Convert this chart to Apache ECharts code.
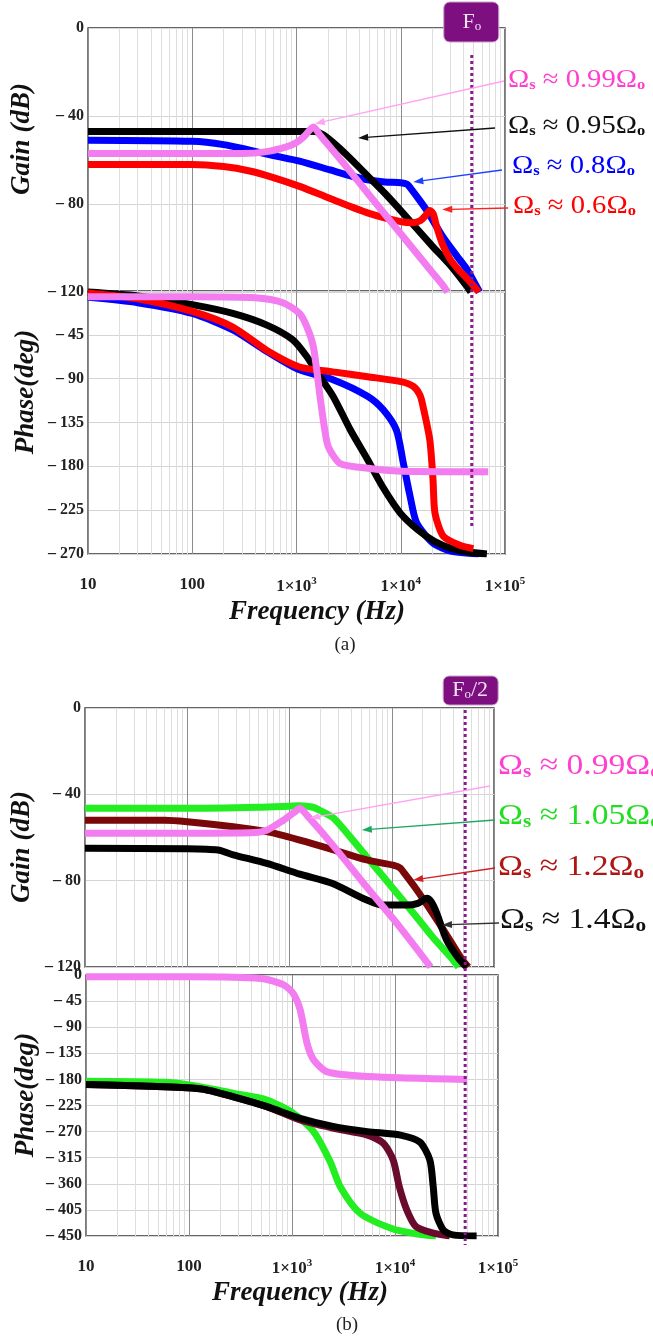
<!DOCTYPE html>
<html><head><meta charset="utf-8">
<script src="https://cdn.jsdelivr.net/npm/echarts@6/dist/echarts.min.js"></script>
<style>html,body{margin:0;padding:0;background:#fff}#c{width:653px;height:1339px}</style>
</head><body><div id="c"></div>
<script>
// ---------------- DATA ----------------
// x ticks (decades) and minor gridline frequencies
const decadeTicks = [10, 100, 1000, 10000, 100000];
const minorTicks = [20,30,40,50,60,70,80,90,200,300,400,500,600,700,800,900,
  2000,3000,4000,5000,6000,7000,8000,9000,20000,30000,40000,50000,60000,70000,80000,90000];
const F0 = 48000;

// (a) Gain, dB
const gainA_099 = [[10,-57],[100,-57],[300,-57],[500,-56.3],[800,-54],[1000,-52],[1200,-49],[1450,-45],[1700,-49],[2000,-53],[3000,-63],[5000,-76],[10000,-93.5],[20000,-111],[25400,-117],[28000,-120]];
const gainA_095 = [[10,-47],[100,-47],[500,-47],[1000,-47],[1500,-47],[1800,-48.5],[2240,-52],[3000,-57.5],[5000,-68],[7000,-75],[10000,-83],[20000,-99],[30000,-108],[44000,-118],[47000,-120]];
const gainA_08  = [[10,-51],[100,-51.5],[200,-53],[355,-55.5],[600,-58],[1070,-60.5],[2100,-64.5],[3500,-67.5],[4800,-69],[7000,-70],[10000,-70.3],[11500,-71],[12500,-73],[15000,-78],[17800,-83],[25400,-95],[35000,-104],[43600,-110],[57000,-120]];
const gainA_06  = [[10,-62],[100,-62],[200,-63],[355,-65],[600,-68],[1070,-72],[2100,-77.5],[4800,-84],[10000,-88],[13000,-88.5],[15500,-87.5],[17500,-85],[19000,-83],[20500,-84.5],[22000,-90],[25000,-98],[29700,-105],[36000,-110],[43600,-114],[56000,-120]];
// (a) Phase, deg
const phaseA_099 = [[10,-6],[100,-6],[400,-7],[740,-12],[1070,-23],[1250,-36],[1450,-57],[1680,-108],[1850,-140],[2020,-160],[2610,-177],[4000,-181],[10000,-185],[69000,-185.5]];
const phaseA_095 = [[10,-1],[30,-5],[100,-14],[245,-23],[520,-35],[920,-50],[1250,-67],[1580,-84],[2240,-108],[3300,-143],[4800,-173],[6700,-201],[9900,-228],[14500,-245],[21000,-257],[30000,-264],[44000,-268],[67000,-270]];
const phaseA_08  = [[10,-6.5],[30,-12],[100,-23],[245,-40],[520,-62],[1070,-81],[2240,-91],[4800,-108],[6800,-122],[9100,-143],[10600,-177],[12300,-211],[14200,-238],[20500,-259],[30000,-267],[56000,-270]];
const phaseA_06  = [[10,-2],[30,-8],[100,-21],[245,-37],[520,-61],[1070,-78],[2240,-83],[4800,-88],[10000,-93],[13200,-98],[15300,-107],[16400,-119],[19000,-153],[20400,-194],[21300,-228],[25700,-252],[37000,-261],[49700,-264.5]];
// (b) Gain, dB
const gainB_099 = [[10,-58],[100,-58],[410,-57.8],[600,-56.6],[870,-52],[1100,-48.5],[1260,-46.5],[1500,-50],[2700,-64],[5700,-83],[12000,-101.5],[24000,-120]];
const gainB_105 = [[10,-46.5],[100,-46.5],[500,-46],[1000,-45.5],[1260,-45.3],[1700,-46],[2000,-47.5],[2700,-51],[3900,-59.6],[5700,-69],[8200,-78],[12000,-87.4],[17400,-96.7],[25000,-106],[37000,-115],[45000,-120]];
const gainB_12  = [[10,-52],[60,-52],[100,-52.7],[282,-55],[600,-57.3],[1260,-61.2],[2600,-65.5],[5700,-70.4],[10300,-72.8],[12000,-74],[13500,-77],[17400,-84],[25000,-95],[37000,-107.5],[48000,-116],[56000,-120]];
const gainB_14  = [[10,-65],[100,-65.2],[200,-65.8],[282,-68],[600,-72],[1260,-77],[2600,-81.2],[5700,-89],[8200,-91.3],[14000,-91.3],[18000,-90.5],[22000,-88.2],[24500,-90],[27500,-95],[34400,-107.5],[45000,-116],[54000,-120]];
// (b) Phase, deg
const phaseB_099 = [[10,-3],[100,-3],[500,-6],[830,-17],[1030,-32],[1200,-60],[1400,-118],[1620,-146],[2200,-167],[5400,-175],[50000,-180]];
const phaseB_105 = [[10,-183],[61,-185],[127,-192.5],[270,-204],[570,-215.5],[1030,-238.5],[1620,-270],[2350,-322],[2940,-365],[4600,-411],[9600,-438],[16000,-446],[25000,-450]];
const phaseB_12  = [[10,-189],[127,-196],[270,-210],[570,-227],[1200,-250],[2500,-264],[5400,-276],[7700,-290],[9600,-319],[11000,-365],[13000,-405],[16000,-434],[23500,-445],[34000,-450]];
const phaseB_14  = [[10,-189],[127,-196],[270,-210],[570,-227],[1200,-247],[2500,-261],[5400,-270],[11300,-276],[17400,-288],[21800,-319],[23500,-365],[25000,-411],[29500,-440],[36500,-448],[62000,-450]];

// annotation labels (text parts)
const labelsA = ['0.99','0.95','0.8','0.6'];
const labelsB = ['0.99','1.05','1.2','1.4'];

// ---------------- LAYOUT / STYLE ----------------
const SERIF = "'Liberation Serif','Times New Roman',serif";
const C = {pink:'#f27cf0', black:'#000000', blue:'#0000ff', red:'#ff0000', green:'#22ee22', maroon:'#7a0808', maroonP:'#6a0a2c'};
const grids = [
  {left:88, top:28,  width:417, height:264},
  {left:88, top:291, width:417, height:263},
  {left:85, top:708, width:409, height:259},
  {left:86, top:975, width:412, height:261}
];
const yRanges = [[-120,0,40],[-270,0,45],[-120,0,40],[-450,0,45]];

const chart = echarts.init(document.getElementById('c'));

function xAxis(gi){
  const showLab = gi % 2 === 1;
  return {type:'log', logBase:10, min:10, max:100000, gridIndex:gi,
    axisLine:{show:false}, axisTick:{show:false},
    splitLine:{show:true, lineStyle:{color:'#8c8c8c', width:1}},
    axisLabel: showLab ? {show:true, margin:22,
      formatter: v => { const e = Math.round(Math.log10(v)); return e <= 2 ? '{n|' + Math.round(v) + '}' : '{n|1×10}{p|' + e + '}'; },
      rich:{n:{fontFamily:SERIF, fontWeight:'bold', fontSize:17, color:'#222'},
            p:{fontFamily:SERIF, fontWeight:'bold', fontSize:11, color:'#222', padding:[0,0,10,0]}}} : {show:false}
  };
}
function yAxis(gi){
  const r = yRanges[gi];
  return {type:'value', gridIndex:gi, min:r[0], max:r[1], interval:r[2],
    axisLine:{show:false}, axisTick:{show:false},
    splitLine:{show:true, lineStyle:{color:'#d4d4d4', width:1}},
    axisLabel:{margin:4, fontFamily:SERIF, fontWeight:'bold', fontSize:16, color:'#222',
      formatter: v => v === 0 ? (gi === 1 ? '' : '0') : '– ' + Math.abs(v)}
  };
}
function ser(data, color, gi, z, minor){
  const s = {type:'line', xAxisIndex:gi, yAxisIndex:gi, data, symbol:'none', showSymbol:false,
    smooth:0.25, lineStyle:{color, width:7}, z, silent:true, animation:false};
  if (minor) s.markLine = {silent:true, symbol:'none', z:1, animation:false, label:{show:false},
    lineStyle:{color:'#dedede', width:1, type:'solid'}, data: minorTicks.map(v => ({xAxis:v}))};
  return s;
}

const option = {
  animation:false,
  backgroundColor:'#ffffff',
  grid: grids.map(g => Object.assign({show:true, borderColor:'#333', borderWidth:1.3, backgroundColor:'transparent'}, g)),
  xAxis: [0,1,2,3].map(xAxis),
  yAxis: [0,1,2,3].map(yAxis),
  series: [
    ser(gainA_08, C.blue, 0, 2, true), ser(gainA_095, C.black, 0, 3), ser(gainA_06, C.red, 0, 4), ser(gainA_099, C.pink, 0, 5),
    ser(phaseA_08, C.blue, 1, 2, true), ser(phaseA_095, C.black, 1, 3), ser(phaseA_06, C.red, 1, 4), ser(phaseA_099, C.pink, 1, 5),
    ser(gainB_105, C.green, 2, 2, true), ser(gainB_12, C.maroon, 2, 3), ser(gainB_14, C.black, 2, 4), ser(gainB_099, C.pink, 2, 5),
    ser(phaseB_105, C.green, 3, 2, true), ser(phaseB_12, C.maroonP, 3, 3), ser(phaseB_14, C.black, 3, 4), ser(phaseB_099, C.pink, 3, 5)
  ]
};
chart.setOption(option);

// ---------- annotations computed through the axes ----------
const px = (gi, pt) => chart.convertToPixel({xAxisIndex:gi, yAxisIndex:gi}, pt);
const annot = [
  {gi:0, lab:labelsA[0], col:'#ff3fcf', arr:'#ffa3f2', tx:508, ty:80,  tail:[504,81],  tip:[1500,-43.5]},
  {gi:0, lab:labelsA[1], col:'#111111', arr:'#111111', tx:508, ty:126, tail:[495,128], tip:[3900,-50]},
  {gi:0, lab:labelsA[2], col:'#0000ff', arr:'#2040ff', tx:512, ty:166, tail:[502,170], tip:[13200,-70]},
  {gi:0, lab:labelsA[3], col:'#ff0000', arr:'#ff2020', tx:513, ty:206, tail:[508,208], tip:[25000,-82.5]},
  {gi:2, lab:labelsB[0], col:'#ff3fcf', arr:'#ffa3f2', tx:498, ty:766, tail:[490,786], tip:[1580,-51]},
  {gi:2, lab:labelsB[1], col:'#22dd22', arr:'#20a860', tx:498, ty:816, tail:[495,820], tip:[5100,-56.5]},
  {gi:2, lab:labelsB[2], col:'#b01515', arr:'#d02020', tx:498, ty:867, tail:[495,868], tip:[16200,-79.7]},
  {gi:2, lab:labelsB[3], col:'#111111', arr:'#333333', tx:500, ty:920, tail:[499,923], tip:[31000,-100.5]}
];
const labStyle = [{fs:26, ss:15, sx:1.1, pad:11}, {fs:30, ss:19, sx:1.12, pad:13}];
const g = [];
annot.forEach(a => {
  const t = px(a.gi, a.tip);
  const dx = t[0]-a.tail[0], dy = t[1]-a.tail[1], L = Math.hypot(dx,dy);
  const ux = dx/L, uy = dy/L, nx = -uy, ny = ux, hl = 10, hw = 3.5;
  g.push({type:'line', silent:true, z:50, shape:{x1:a.tail[0], y1:a.tail[1], x2:t[0]-ux*hl*0.8, y2:t[1]-uy*hl*0.8}, style:{stroke:a.arr, lineWidth:1.3}});
  g.push({type:'polygon', silent:true, z:50, shape:{points:[[t[0],t[1]],[t[0]-ux*hl+nx*hw, t[1]-uy*hl+ny*hw],[t[0]-ux*hl-nx*hw, t[1]-uy*hl-ny*hw]]}, style:{fill:a.arr}});
  const ls = labStyle[a.gi === 0 ? 0 : 1];
  g.push({type:'text', silent:true, z:60, x:a.tx, y:a.ty, scaleX:ls.sx, style:{
    text:'{o|Ω}{s|s}{o| ≈ ' + a.lab + 'Ω}{s|o}', align:'left', verticalAlign:'middle',
    rich:{o:{fontFamily:SERIF, fontSize:ls.fs, fill:a.col}, s:{fontFamily:SERIF, fontSize:ls.ss, fontWeight:'bold', fill:a.col, padding:[ls.pad,0,0,0]}}}});
});
// F0 markers
const xa = px(1, [F0, 0])[0], xb = px(3, [F0, 0])[0];
g.push({type:'line', silent:true, z:40, shape:{x1:xa, y1:55, x2:xa, y2:528}, style:{stroke:'#8a1a8a', lineWidth:3, lineDash:[3,3]}});
g.push({type:'line', silent:true, z:40, shape:{x1:xb, y1:710, x2:xb, y2:1245}, style:{stroke:'#8a1a8a', lineWidth:3, lineDash:[3,3]}});
g.push({type:'rect', silent:true, z:45, shape:{x:xa-28, y:2, width:55, height:40, r:6}, style:{fill:'#7e0f80', stroke:'#c9a5c9', lineWidth:1}});
g.push({type:'text', silent:true, z:46, x:xa, y:22, style:{text:'{f|F}{s|o}', align:'center', verticalAlign:'middle',
  rich:{f:{fontFamily:SERIF, fontSize:22, fill:'#f1e4f1'}, s:{fontFamily:SERIF, fontSize:13, fill:'#f1e4f1', padding:[10,0,0,0]}}}});
g.push({type:'rect', silent:true, z:45, shape:{x:xb-22, y:676, width:55, height:29, r:6}, style:{fill:'#7e0f80', stroke:'#c9a5c9', lineWidth:1}});
g.push({type:'text', silent:true, z:46, x:xb+5, y:690, style:{text:'{f|F}{s|o}{f|/2}', align:'center', verticalAlign:'middle',
  rich:{f:{fontFamily:SERIF, fontSize:22, fill:'#f1e4f1'}, s:{fontFamily:SERIF, fontSize:13, fill:'#f1e4f1', padding:[10,0,0,0]}}}});
// axis titles
const titleFont = {fontFamily:SERIF, fontStyle:'italic', fontWeight:'bold', fontSize:27, fill:'#111'};
function title(text, x, y, rot){ g.push({type:'text', silent:true, z:60, x, y, rotation:rot||0,
  style:Object.assign({text, align:'center', verticalAlign:'middle'}, titleFont)}); }
title('Gain (dB)', 22, 139, Math.PI/2);
title('Phase(deg)', 26, 392, Math.PI/2);
title('Frequency (Hz)', 317, 612);
title('Gain (dB)', 22, 847, Math.PI/2);
title('Phase(deg)', 26, 1095, Math.PI/2);
title('Frequency (Hz)', 300, 1293);
g.push({type:'text', silent:true, x:345, y:645, style:{text:'(a)', align:'center', verticalAlign:'middle', fontFamily:SERIF, fontSize:19, fill:'#222'}});
g.push({type:'text', silent:true, x:347, y:1325, style:{text:'(b)', align:'center', verticalAlign:'middle', fontFamily:SERIF, fontSize:19, fill:'#222'}});

chart.setOption({graphic:g});
</script></body></html>
